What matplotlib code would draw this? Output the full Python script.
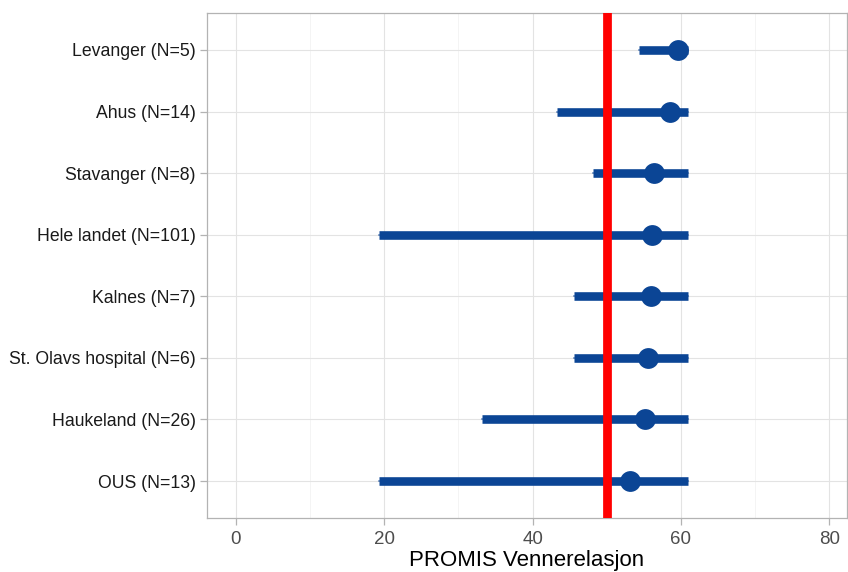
import matplotlib
matplotlib.use("Agg")
import matplotlib.pyplot as plt
from matplotlib.ticker import MultipleLocator

categories = ["OUS (N=13)", "Haukeland (N=26)", "St. Olavs hospital (N=6)", "Kalnes (N=7)",
              "Hele landet (N=101)", "Stavanger (N=8)", "Ahus (N=14)", "Levanger (N=5)"]
mins = [19.3, 33.2, 45.6, 45.6, 19.3, 48.2, 43.3, 54.3]
maxs = [61.0, 61.0, 61.0, 61.0, 61.0, 61.0, 61.0, 61.0]
means = [53.1, 55.2, 55.6, 56.0, 56.1, 56.4, 58.5, 59.6]
reference = 50
xlabel = "PROMIS Vennerelasjon"

plt.rcParams['font.family'] = ['Liberation Sans', 'DejaVu Sans']
fig = plt.figure(figsize=(8.48, 5.72), dpi=100)
ax = fig.add_axes([0.244, 0.0944, 0.755, 0.8829])

blue = '#0B4595'
ys = list(range(1, len(categories) + 1))
for y, lo, hi in zip(ys, mins, maxs):
    ax.plot([lo, hi], [y, y], color=blue, lw=1.2, alpha=0.6, solid_capstyle='projecting', zorder=2)
    ax.plot([lo, hi], [y, y], color=blue, lw=6.2, solid_capstyle='butt', zorder=3)
ax.axvline(reference, color='#FF0000', lw=6.3, zorder=4)
ax.plot(means, ys, 'o', color=blue, markersize=15, zorder=5, markeredgewidth=0)

ax.set_xlim(-3.9, 82.4)
ax.set_ylim(0.4, 8.6)
ax.xaxis.set_major_locator(MultipleLocator(20))
ax.xaxis.set_minor_locator(MultipleLocator(10))
ax.set_yticks(ys)
ax.set_yticklabels(categories)
ax.grid(which='major', color='#E3E3E3', lw=0.8, zorder=0)
ax.grid(which='minor', axis='x', color='#F0F0F0', lw=0.5, zorder=0)
ax.set_axisbelow(True)
for s in ax.spines.values():
    s.set_color('#B3B3B3')
    s.set_linewidth(0.9)
ax.tick_params(axis='both', which='major', color='#B3B3B3', length=5, width=0.9)
ax.tick_params(axis='x', which='minor', length=0)
ax.tick_params(axis='x', labelsize=13.5, labelcolor='#4D4D4D', pad=4)
ax.tick_params(axis='y', labelsize=12.7, labelcolor='#1A1A1A', pad=3)
ax.set_xlabel(xlabel, fontsize=16, color='black', labelpad=2)

fig.savefig('out.png', dpi=100)
